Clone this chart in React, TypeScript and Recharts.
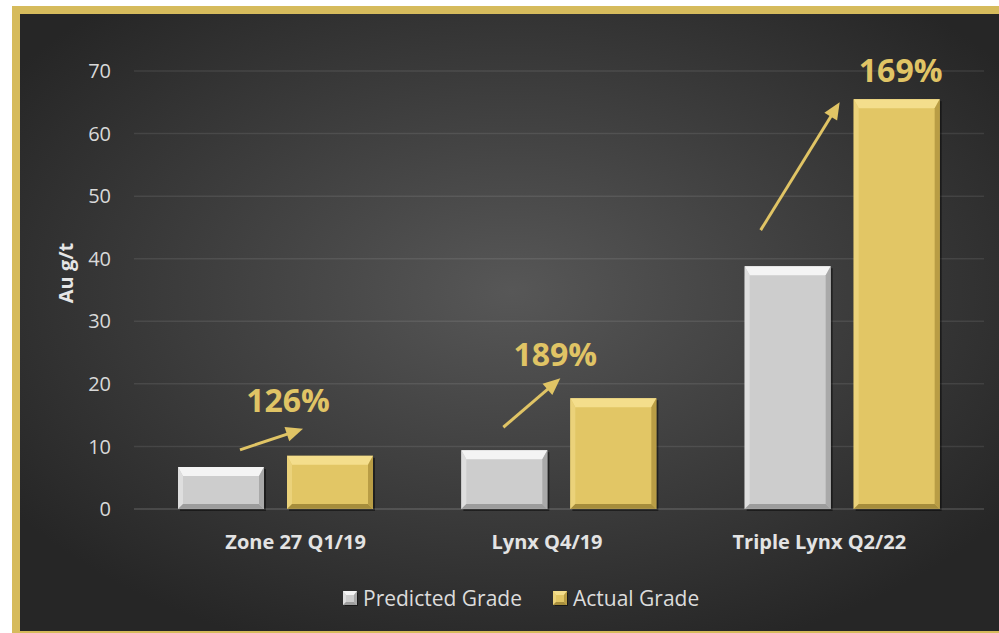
import React from 'react'
import { BarChart, Bar, XAxis, YAxis, CartesianGrid, Legend, LabelList } from 'recharts'

const CATEGORIES = ['Zone 27 Q1/19', 'Lynx Q4/19', 'Triple Lynx Q2/22']
const PREDICTED = [6.7, 9.4, 38.8]
const ACTUAL = [8.5, 17.7, 65.5]
const GROWTH = ['126%', '189%', '169%']
const Y_TICKS = [0, 10, 20, 30, 40, 50, 60, 70]

const data = CATEGORIES.map((name, i) => ({
    name,
    predicted: PREDICTED[i],
    actual: ACTUAL[i],
    growth: GROWTH[i]
}))

const FONT = '"Open Sans", "Noto Sans", sans-serif'
const GOLD = '#e0c465'
const GRID = 'rgba(255,255,255,0.09)'

const GRAY_TONES = { base: '#cdcdcd', top: '#f4f4f4', left: '#dedede', right: '#a9a9a9', bottom: '#9c9c9c' }
const GOLD_TONES = { base: '#e2c665', top: '#f4de8c', left: '#ebd27a', right: '#b99d45', bottom: '#a68d3c' }

// tweak to where each category label sits in the picture
const TICK_DX = [20, -12, -23]

// arrow + label placement relative to the top-left of each gold bar
const ANNOT = [
    { sx: -47, sy: -6, ex: 16, ey: -27, tx: 1, ty: -44 },
    { sx: -67, sy: 29, ex: -10, ey: -20, tx: -15, ty: -32 },
    { sx: -93, sy: 131, ex: -14, ey: 3, tx: 47, ty: -17 }
]

type Tones = typeof GRAY_TONES

function bevel(x: number, y: number, w: number, h: number, t: Tones, bt: number, bs: number) {
    const b = Math.min(bs, w / 2, h / 2)
    const btop = Math.min(bt, h / 2)
    return (
        <g>
            <rect x={x + 2} y={y + 2} width={w} height={h} fill="rgba(0,0,0,0.45)" />
            <rect x={x} y={y} width={w} height={h} fill={t.base} />
            <polygon points={`${x},${y} ${x + w},${y} ${x + w - b},${y + btop} ${x + b},${y + btop}`} fill={t.top} />
            <polygon points={`${x},${y} ${x + b},${y + btop} ${x + b},${y + h - b} ${x},${y + h}`} fill={t.left} />
            <polygon points={`${x + w},${y} ${x + w},${y + h} ${x + w - b},${y + h - b} ${x + w - b},${y + btop}`} fill={t.right} />
            <polygon points={`${x},${y + h} ${x + w},${y + h} ${x + w - b},${y + h - b} ${x + b},${y + h - b}`} fill={t.bottom} />
        </g>
    )
}

const GrayBar = (props: any) => bevel(props.x, props.y, props.width, props.height, GRAY_TONES, 9, 5)
const GoldBar = (props: any) => bevel(props.x, props.y, props.width, props.height, GOLD_TONES, 9, 5)

function Annotation(props: any) {
    const { x, y, index, value } = props
    const a = ANNOT[index]
    const x1 = x + a.sx, y1 = y + a.sy, x2 = x + a.ex, y2 = y + a.ey
    const ang = Math.atan2(y2 - y1, x2 - x1)
    const len = 17, half = 7.5
    const bx = x2 - len * Math.cos(ang), by = y2 - len * Math.sin(ang)
    const px = -Math.sin(ang) * half, py = Math.cos(ang) * half
    return (
        <g>
            <line x1={x1} y1={y1} x2={bx + 2 * Math.cos(ang)} y2={by + 2 * Math.sin(ang)} stroke={GOLD} strokeWidth={3} />
            <polygon points={`${x2},${y2} ${bx + px},${by + py} ${bx - px},${by - py}`} fill={GOLD} />
            <text x={x + a.tx} y={y + a.ty} textAnchor="middle" fill={GOLD} fontFamily={FONT} fontWeight={700} fontSize={32}>
                {value}
            </text>
        </g>
    )
}

function CategoryTick(props: any) {
    const { x, y, payload, index } = props
    return (
        <text x={x + TICK_DX[index]} y={y} dy={32} textAnchor="middle" fill="#e3e3e3" fontFamily={FONT} fontWeight={700} fontSize={20}>
            {payload.value}
        </text>
    )
}

function AxisTitle(props: any) {
    const { viewBox } = props
    const cx = 65
    const cy = viewBox.y + viewBox.height / 2 - 17
    return (
        <text x={cx} y={cy} transform={`rotate(-90 ${cx} ${cy})`} textAnchor="middle" dominantBaseline="central"
            fill="#e6e6e6" fontFamily={FONT} fontWeight={700} fontSize={20}>
            Au g/t
        </text>
    )
}

function LegendIcon({ tones }: { tones: Tones }) {
    return (
        <svg width={15} height={15} style={{ display: 'block' }}>
            {bevel(0, 0, 14, 14, tones, 4, 3)}
        </svg>
    )
}

function ChartLegend() {
    const items = [
        { label: 'Predicted Grade', tones: GRAY_TONES },
        { label: 'Actual Grade', tones: GOLD_TONES }
    ]
    return (
        <div style={{ display: 'flex', alignItems: 'center', fontFamily: FONT, fontSize: 21, color: '#dcdcdc' }}>
            {items.map((it, i) => (
                <div key={it.label} style={{ display: 'flex', alignItems: 'center', marginRight: i === 0 ? 31 : 0 }}>
                    <LegendIcon tones={it.tones} />
                    <span style={{ marginLeft: 5, lineHeight: '28px' }}>{it.label}</span>
                </div>
            ))}
        </div>
    )
}

export default function App() {
    return (
        <div style={{ position: 'absolute', left: 0, top: 0, width: 999, height: 633, overflow: 'hidden', background: '#ffffff' }}>
            <div
                style={{
                    position: 'absolute',
                    left: 12,
                    top: 6,
                    width: 1000,
                    height: 633,
                    boxSizing: 'border-box',
                    border: '8px solid #d6bb5c',
                    background: 'radial-gradient(ellipse 62% 62% at 50% 45%, #575757 0%, #3c3c3c 55%, #262626 100%)'
                }}
            />
            <div style={{ position: 'absolute', left: 0, top: 0 }}>
                <BarChart
                    width={999}
                    height={633}
                    data={data}
                    margin={{ top: 71, right: 15, bottom: 84, left: 0 }}
                    barSize={86}
                    barGap={23}
                >
                    <CartesianGrid vertical={false} stroke={GRID} strokeWidth={1.5} />
                    <XAxis
                        dataKey="name"
                        height={40}
                        axisLine={{ stroke: GRID, strokeWidth: 1.5 }}
                        tickLine={false}
                        tick={<CategoryTick />}
                        interval={0}
                    />
                    <YAxis
                        width={134}
                        domain={[0, 70]}
                        ticks={Y_TICKS}
                        axisLine={false}
                        tickLine={false}
                        tickMargin={17}
                        tick={{ fill: '#d9d9d9', fontSize: 20, fontFamily: FONT }}
                        label={<AxisTitle />}
                    />
                    <Legend
                        verticalAlign="middle"
                        align="center"
                        content={<ChartLegend />}
                        wrapperStyle={{ top: 584, left: 343, width: 400, height: 28 }}
                    />
                    <Bar dataKey="predicted" name="Predicted Grade" fill="#cdcdcd" shape={<GrayBar />} isAnimationActive={false} />
                    <Bar dataKey="actual" name="Actual Grade" fill={GOLD} shape={<GoldBar />} isAnimationActive={false}>
                        <LabelList dataKey="growth" content={<Annotation />} />
                    </Bar>
                </BarChart>
            </div>
        </div>
    )
}
